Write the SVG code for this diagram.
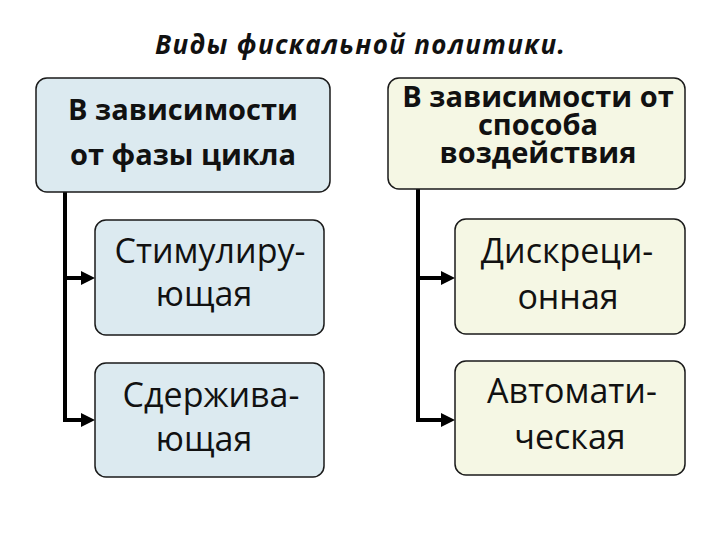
<svg xmlns="http://www.w3.org/2000/svg" width="720" height="540" viewBox="0 0 720 540">
<defs>
<style>
.blue{fill:#DCEAF0;stroke:#1a1a1a;stroke-width:1.5}
.yel{fill:#F5F7E4;stroke:#1a1a1a;stroke-width:1.5}
.hd{font-family:"Open Sans","Noto Sans",sans-serif;font-weight:bold;font-size:29px;fill:#111;text-anchor:middle}
.it{font-family:"Open Sans","Noto Sans",sans-serif;font-size:34px;fill:#111;text-anchor:middle}
.title{font-family:"Open Sans","Noto Sans",sans-serif;font-weight:bold;font-style:italic;font-size:26px;fill:#111}
.ln{fill:none;stroke:#000;stroke-width:4}
</style>
<marker id="ar" markerWidth="3.5" markerHeight="3.5" refX="1.75" refY="1.75" orient="auto" markerUnits="strokeWidth">
<path d="M0,0 L3.5,1.75 L0,3.5 z" fill="#000"/>
</marker>
</defs>
<rect width="720" height="540" fill="#fff"/>
<text class="title" x="155" y="54" textLength="410" lengthAdjust="spacing">Виды фискальной политики.</text>
<g id="connectors">
<path class="ln" d="M65,191 V420"/>
<path class="ln" d="M63,278 H88" marker-end="url(#ar)"/>
<path class="ln" d="M63,420 H88" marker-end="url(#ar)"/>
<path class="ln" d="M418,189 V420"/>
<path class="ln" d="M416,278 H448" marker-end="url(#ar)"/>
<path class="ln" d="M416,420 H448" marker-end="url(#ar)"/>
</g>
<g id="n1">
<rect class="blue" x="36" y="78" width="294" height="114" rx="11"/>
<text class="hd" x="183" y="120">В зависимости</text>
<text class="hd" x="183" y="165">от фазы цикла</text>
</g>
<g id="n2">
<rect class="yel" x="388" y="78" width="297" height="111" rx="11"/>
<text class="hd" x="538" y="107">В зависимости от</text>
<text class="hd" x="538" y="135">способа</text>
<text class="hd" x="538" y="163">воздействия</text>
</g>
<g id="n3">
<rect class="blue" x="95" y="220" width="229" height="115" rx="11"/>
<text class="it" x="210" y="263">Стимулиру-</text>
<text class="it" x="204" y="306">ющая</text>
</g>
<g id="n4">
<rect class="blue" x="95" y="363" width="229" height="114" rx="11"/>
<text class="it" x="211" y="407">Сдержива-</text>
<text class="it" x="204" y="451">ющая</text>
</g>
<g id="n5">
<rect class="yel" x="455" y="219" width="230" height="115" rx="11"/>
<text class="it" x="567" y="263">Дискреци-</text>
<text class="it" x="568" y="309">онная</text>
</g>
<g id="n6">
<rect class="yel" x="455" y="361" width="230" height="114" rx="11"/>
<text class="it" x="572" y="403">Автомати-</text>
<text class="it" x="570" y="449">ческая</text>
</g>
</svg>
